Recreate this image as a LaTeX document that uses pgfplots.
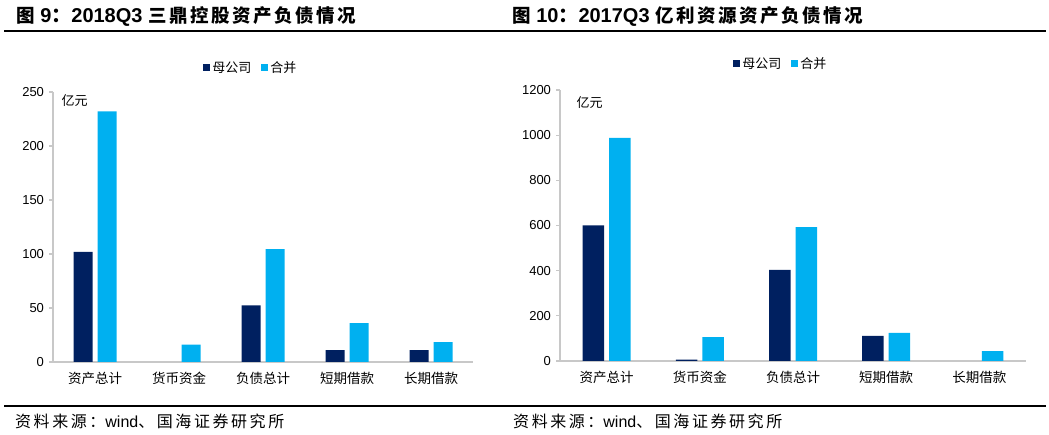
\documentclass[border=0pt]{standalone}
\usepackage{fontspec}
\setmainfont{Liberation Sans}
\newfontfamily\cjk{Noto Sans CJK SC}
\newfontfamily\cjkt{Noto Sans CJK SC}[LetterSpace=13.5]
\newfontfamily\cjks{Noto Sans CJK SC}[LetterSpace=16]
\usepackage{pgfplots}
\pgfplotsset{compat=1.18}

\definecolor{navy}{HTML}{002060}
\definecolor{sky}{HTML}{00B0F0}
\definecolor{axgray}{HTML}{C8C8C8}

\pgfplotsset{
  balance/.style={
    scale only axis, anchor=south west,
    ybar=5pt, ymin=0,
    xmin=-0.5, xmax=4.5,
    xtick={0,...,4},
    xticklabels={资产总计,货币资金,负债总计,短期借款,长期借款},
    x tick label style={font=\cjk\fontsize{13.5}{15}\selectfont, yshift=-3pt},
    y tick label style={font=\fontsize{13}{15}\selectfont, xshift=-1.5pt},
    /pgf/number format/assume math mode=true,
    /pgf/number format/1000 sep={},
    axis x line=bottom, axis y line=left,
    axis line style={-, axgray, line width=2pt},
    x tick style={draw=none},
    y tick style={axgray, line width=1.2pt},
    tick align=outside, major tick length=4pt,
    legend columns=2,
    legend style={draw=none, fill=none, font=\cjk\fontsize{13}{15}\selectfont,
      anchor=center, /tikz/every even column/.append style={column sep=8pt}},
    legend image code/.code={\fill[##1] (0pt,-3.5pt) rectangle (7pt,3.5pt);},
  }
}

\begin{document}
\begin{tikzpicture}
\path[use as bounding box] (0,0) rectangle (1049pt,435pt);

% rules above and below
\draw[line width=1.3pt] (4pt,404pt) -- (1046pt,404pt);
\draw[line width=1.3pt] (4pt,29pt) -- (1046pt,29pt);

% titles
\node[anchor=base west, inner sep=0pt, font=\bfseries\fontsize{20}{22}\selectfont]
  at (16pt,412pt) {{\cjkt\fontsize{18.5}{22}\selectfont 图} 9{\cjk ：}2018Q3 {\cjkt\fontsize{18.5}{22}\selectfont 三鼎控股资产负债情况}};
\node[anchor=base west, inner sep=0pt, font=\bfseries\fontsize{20}{22}\selectfont]
  at (512pt,412pt) {{\cjkt\fontsize{18.5}{22}\selectfont 图} 10{\cjk ：}2017Q3 {\cjkt\fontsize{18.5}{22}\selectfont 亿利资源资产负债情况}};

% sources
\node[anchor=base west, inner sep=0pt, font=\fontsize{16}{18}\selectfont]
  at (15pt,7pt) {{\cjks 资料来源：}wind{\cjks 、国海证券研究所}};
\node[anchor=base west, inner sep=0pt, font=\fontsize{16}{18}\selectfont]
  at (513pt,7pt) {{\cjks 资料来源：}wind{\cjks 、国海证券研究所}};

% left chart
\begin{axis}[balance,
  at={(53pt,73pt)}, width=420pt, height=270pt,
  ymax=250, ytick={0,50,...,250},
  bar width=19pt,
  legend style={at={(0.471,1.089)}},
]
\addplot[fill=navy, draw=none] coordinates {(0,102) (2,52.5) (3,11) (4,11)};
\addplot[fill=sky, draw=none] coordinates {(0,232) (1,16) (2,104.5) (3,36) (4,18.5)};
\legend{母公司,合并}
\node[anchor=west, font=\cjk\fontsize{13}{15}\selectfont] at (axis description cs:0.012,0.97) {亿元};
\end{axis}

% right chart
\begin{axis}[balance,
  at={(560pt,74pt)}, width=466pt, height=271pt,
  ymax=1200, ytick={0,200,...,1200},
  bar width=21.5pt,
  legend style={at={(0.474,1.096)}},
]
\addplot[fill=navy, draw=none] coordinates {(0,600) (1,6) (2,403) (3,111)};
\addplot[fill=sky, draw=none] coordinates {(0,988) (1,106) (2,593) (3,124) (4,44)};
\legend{母公司,合并}
\node[anchor=west, font=\cjk\fontsize{13}{15}\selectfont] at (axis description cs:0.028,0.952) {亿元};
\end{axis}
\end{tikzpicture}
\end{document}
